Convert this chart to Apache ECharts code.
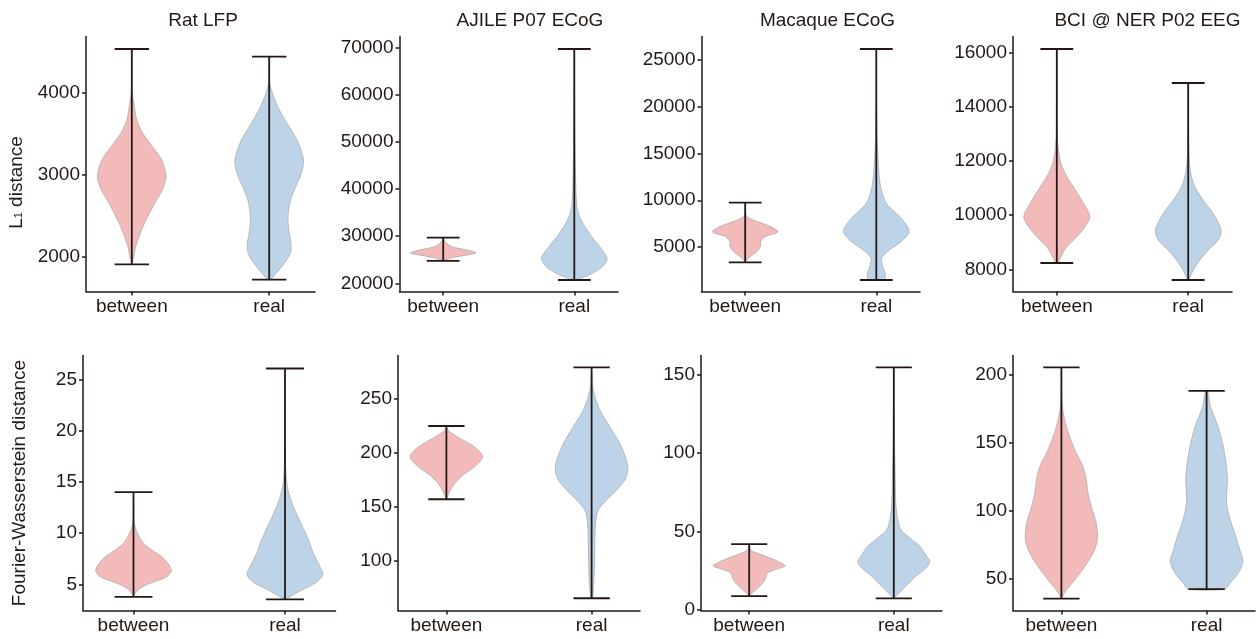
<!DOCTYPE html>
<html><head><meta charset="utf-8">
<script src="https://cdn.jsdelivr.net/npm/echarts@6/dist/echarts.min.js"></script>
<style>html,body{margin:0;padding:0;background:#fff}#c{width:1256px;height:639px}</style>
</head><body><div id="c"></div>
<script>
// ---------- data ----------
const categories = ['between', 'real'];
const panelTitles = ['Rat LFP', 'AJILE P07 ECoG', 'Macaque ECoG', 'BCI @ NER P02 EEG'];
const rowNames = ['{a|L}{s|1}{a| distance}', 'Fourier-Wasserstein distance'];

// tick labels per panel
const ticksRatL1 = [2000, 3000, 4000];
const ticksAjileL1 = [20000, 30000, 40000, 50000, 60000, 70000];
const ticksMacaqueL1 = [5000, 10000, 15000, 20000, 25000];
const ticksBciL1 = [8000, 10000, 12000, 14000, 16000];
const ticksRatFW = [5, 10, 15, 20, 25];
const ticksAjileFW = [100, 150, 200, 250];
const ticksMacaqueFW = [0, 50, 100, 150];
const ticksBciFW = [50, 100, 150, 200];

// violin profiles: [value, half-width (in category units)], from minimum to maximum
const ratL1Between = [[1906,0],[1963,0.01],[2126,0.029],[2370,0.082],[2614,0.154],[2817,0.222],[2980,0.25],[3183,0.217],[3345,0.15],[3508,0.08],[3671,0.036],[3833,0.019],[3996,0.004],[4200,0.002],[4537,0]];
const ratL1Real = [[1720,0.01],[1801,0.053],[1923,0.111],[2045,0.154],[2167,0.159],[2329,0.142],[2492,0.137],[2655,0.15],[2817,0.183],[2980,0.226],[3142,0.25],[3265,0.239],[3427,0.202],[3630,0.13],[3833,0.063],[4118,0.003],[4443,0]];
const ajileL1Between = [[24756,0],[24968,0.02],[25456,0.076],[25966,0.175],[26390,0.25],[26730,0.228],[27240,0.152],[27792,0.063],[28854,0.013],[29700,0]];
const ajileL1Real = [[20700,0.015],[21083,0.051],[22144,0.139],[23546,0.215],[25329,0.25],[27452,0.203],[29214,0.152],[30637,0.114],[33461,0.051],[36285,0.02],[44777,0.008],[51868,0.004],[69724,0]];
const macaqueL1Between = [[3364,0],[3615,0.012],[3968,0.038],[4503,0.088],[5038,0.116],[5572,0.118],[6107,0.151],[6375,0.21],[6642,0.25],[7112,0.204],[7540,0.128],[8075,0.03],[8428,0.005],[9743,0]];
const macaqueL1Real = [[1471,0.062],[1658,0.068],[2193,0.068],[2898,0.05],[3797,0.04],[4685,0.1],[5572,0.189],[6642,0.25],[7893,0.202],[8781,0.138],[9679,0.076],[11102,0.038],[12888,0.02],[15380,0.01],[17166,0.005],[20000,0.002],[26176,0]];
const bciL1Between = [[8233,0],[8275,0.013],[8523,0.038],[8829,0.076],[9199,0.152],[9568,0.214],[9878,0.25],[10063,0.245],[10554,0.189],[11045,0.126],[11540,0.063],[12031,0.025],[12770,0.006],[14247,0.002],[16137,0]];
const bciL1Real = [[7605,0],[7662,0.01],[7969,0.038],[8338,0.088],[8708,0.152],[9077,0.227],[9446,0.25],[10063,0.189],[10554,0.114],[11045,0.051],[11540,0.02],[12031,0.008],[13017,0.003],[14881,0]];
const ratFWBetween = [[3.78,0],[4.14,0.013],[4.63,0.044],[5.12,0.11],[5.76,0.22],[6.41,0.25],[7.56,0.198],[8.37,0.121],[9.02,0.066],[9.99,0.026],[10.97,0.005],[12.0,0.002],[14.0,0]];
const ratFWReal = [[3.54,0],[3.81,0.033],[4.46,0.11],[5.12,0.198],[5.93,0.25],[7.07,0.22],[8.04,0.187],[9.34,0.155],[10.97,0.105],[12.6,0.055],[14.2,0.02],[15.2,0.01],[16.5,0.004],[20,0.002],[26.07,0]];
const ajileFWBetween = [[156.8,0],[159.2,0.007],[163.9,0.023],[171.6,0.057],[179.3,0.115],[187.0,0.194],[196.3,0.25],[204.1,0.206],[210.2,0.137],[216.5,0.057],[221.1,0.01],[224.9,0]];
const ajileFWReal = [[64.7,0],[66.1,0.007],[81.6,0.016],[100.2,0.021],[121.9,0.023],[137.4,0.03],[146.7,0.046],[156.0,0.103],[165.3,0.172],[174.6,0.229],[183.9,0.25],[193.2,0.24],[208.8,0.194],[224.2,0.126],[239.7,0.057],[252.1,0.023],[261.4,0.008],[270,0.003],[279.5,0]];
const macaqueFWBetween = [[8.9,0],[11.0,0.023],[13.8,0.057],[17.0,0.092],[20.2,0.115],[23.4,0.126],[25.5,0.172],[28.0,0.25],[30.1,0.218],[32.9,0.149],[36.1,0.057],[38.2,0.01],[42.0,0]];
const macaqueFWReal = [[7.4,0],[9.5,0.023],[14.8,0.08],[21.2,0.149],[26.5,0.218],[30.7,0.25],[33.9,0.229],[40.3,0.184],[45.6,0.115],[50.9,0.05],[57.3,0.028],[67.9,0.014],[89.1,0.009],[100,0.006],[120,0.003],[154.5,0]];
const bciFWBetween = [[35.6,0],[37.0,0.007],[41.9,0.034],[49.3,0.092],[59.0,0.16],[68.8,0.217],[78.6,0.248],[90.8,0.24],[103.0,0.206],[112.8,0.183],[122.5,0.172],[132.3,0.149],[142.1,0.103],[154.3,0.057],[166.5,0.023],[176.3,0.007],[186.1,0.002],[205.1,0]];
const bciFWReal = [[42.5,0.126],[46.8,0.16],[54.2,0.217],[62.7,0.25],[71.3,0.229],[83.5,0.194],[95.7,0.156],[107.9,0.137],[122.5,0.144],[132.3,0.137],[147.0,0.115],[161.6,0.08],[176.3,0.027],[187.8,0.008]];

// ---------- layout / style ----------
const TXT = '#231815';
const FONT = '"Liberation Sans", Arial, sans-serif';
const PINK = '#F2BBBA', BLUE = '#BDD4E8';
const CAP = 0.125;

const panels = [
  {profiles:[ratL1Between, ratL1Real], ticks:ticksRatL1, ymin:1575, ymax:4690, left:86, right:315, top:36.5, bottom:291.5, title:panelTitles[0], titleX:203, name:rowNames[0]},
  {profiles:[ajileL1Between, ajileL1Real], ticks:ticksAjileL1, ymin:18260, ymax:72377, left:399.5, right:618, top:36.5, bottom:291.5, title:panelTitles[1], titleX:530},
  {profiles:[macaqueL1Between, macaqueL1Real], ticks:ticksMacaqueL1, ymin:241, ymax:27513, left:701.5, right:920, top:36.5, bottom:291.5, title:panelTitles[2], titleX:827.5},
  {profiles:[bciL1Between, bciL1Real], ticks:ticksBciL1, ymin:7180, ymax:16598, left:1013, right:1232, top:36.5, bottom:291.5, title:panelTitles[3], titleX:1147.5},
  {profiles:[ratFWBetween, ratFWReal], ticks:ticksRatFW, ymin:2.46, ymax:27.34, left:83, right:335.5, top:355.5, bottom:610.5, name:rowNames[1]},
  {profiles:[ajileFWBetween, ajileFWReal], ticks:ticksAjileFW, ymin:53.3, ymax:290.5, left:398, right:640, top:355.5, bottom:610.5},
  {profiles:[macaqueFWBetween, macaqueFWReal], ticks:ticksMacaqueFW, ymin:-0.3, ymax:162, left:701, right:942, top:355.5, bottom:610.5},
  {profiles:[bciFWBetween, bciFWReal], ticks:ticksBciFW, ymin:26.9, ymax:213.8, left:1013, right:1255, top:355.5, bottom:610.5}
];

function violinRender(profile, fill, pos) {
  return function (params, api) {
    const right = profile.map(p => api.coord([pos + p[1], p[0]]));
    const left = profile.slice().reverse().map(p => api.coord([pos - p[1], p[0]]));
    const vmin = profile[0][0], vmax = profile[profile.length - 1][0];
    const top = api.coord([pos, vmax]), bot = api.coord([pos, vmin]);
    const cl = api.coord([pos - CAP, vmax])[0], cr = api.coord([pos + CAP, vmax])[0];
    const ls = {stroke: TXT, lineWidth: 1.8};
    return {type: 'group', children: [
      {type: 'polygon', shape: {points: right.concat(left), smooth: 0.3}, style: {fill: fill, stroke: '#a6a6a6', lineWidth: 0.7}},
      {type: 'line', shape: {x1: top[0], y1: top[1], x2: bot[0], y2: bot[1]}, style: ls},
      {type: 'line', shape: {x1: cl, y1: top[1], x2: cr, y2: top[1]}, style: ls},
      {type: 'line', shape: {x1: cl, y1: bot[1], x2: cr, y2: bot[1]}, style: ls}
    ]};
  };
}

const W = 1256, H = 639;
const option = {
  animation: false,
  backgroundColor: '#fff',
  textStyle: {fontFamily: FONT},
  title: [], grid: [], xAxis: [], yAxis: [], series: []
};
panels.forEach((p, i) => {
  option.grid.push({left: p.left, top: p.top, width: p.right - p.left, height: p.bottom - p.top, containLabel: false});
  if (p.title) option.title.push({text: p.title, left: p.titleX, top: 11.5, textAlign: 'center', padding: 0,
    textStyle: {fontSize: 19, fontWeight: 'normal', color: TXT, fontFamily: FONT}});
  option.xAxis.push({type: 'value', gridIndex: i, min: 2 / 3, max: 7 / 3,
    axisLine: {show: true, onZero: false, lineStyle: {color: TXT, width: 1.5}},
    axisTick: {show: true, customValues: [1, 2], length: 4, lineStyle: {color: TXT, width: 1.5}},
    axisLabel: {customValues: [1, 2], formatter: v => categories[Math.round(v) - 1], color: TXT, fontSize: 19, fontFamily: FONT, margin: 6},
    splitLine: {show: false}});
  const y = {type: 'value', gridIndex: i, min: p.ymin, max: p.ymax,
    axisLine: {show: true, onZero: false, lineStyle: {color: TXT, width: 1.5}},
    axisTick: {show: true, customValues: p.ticks, length: 4, lineStyle: {color: TXT, width: 1.5}},
    axisLabel: {customValues: p.ticks, formatter: v => String(v), color: TXT, fontSize: 19, fontFamily: FONT, margin: 6},
    splitLine: {show: false}};
  if (p.name) {
    y.name = p.name;
    y.nameLocation = 'middle';
    y.nameGap = i === 0 ? 56 : 54;
    y.nameTextStyle = {fontSize: 19, color: TXT, fontFamily: FONT, padding: i === 0 ? [0, 37, 0, 0] : 0,
      rich: {a: {fontSize: 19, color: TXT, fontFamily: FONT, padding: [0, 0, 4, 0]},
             s: {fontSize: 11, color: TXT, fontFamily: FONT}}};
  }
  option.yAxis.push(y);
  p.profiles.forEach((prof, k) => {
    option.series.push({type: 'custom', name: categories[k], xAxisIndex: i, yAxisIndex: i, clip: false,
      renderItem: violinRender(prof, k === 0 ? PINK : BLUE, k + 1),
      data: [[k + 1, prof[prof.length - 1][0]]], silent: true});
  });
});

const chart = echarts.init(document.getElementById('c'), null, {renderer: 'canvas', width: W, height: H});
chart.setOption(option);
</script>
</body></html>
